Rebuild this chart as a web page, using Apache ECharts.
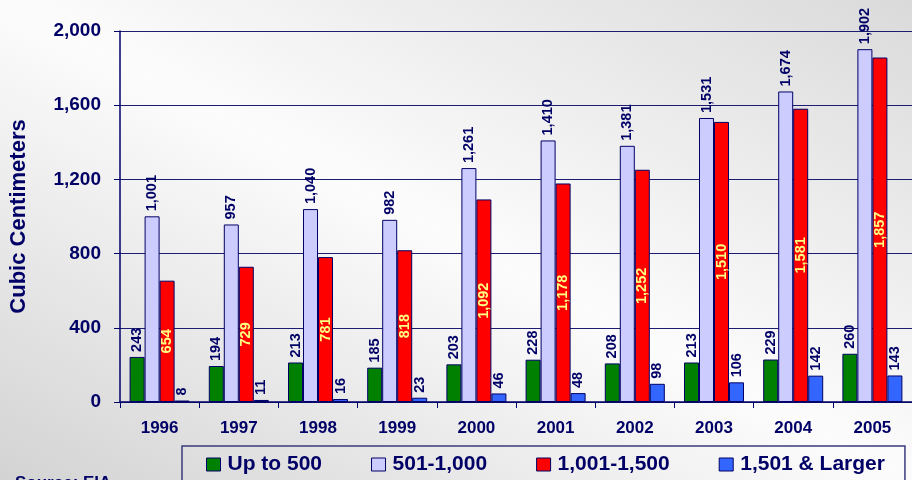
<!DOCTYPE html>
<html>
<head>
<meta charset="utf-8">
<title>Cubic Centimeters</title>
<script src="https://cdn.jsdelivr.net/npm/echarts@6/dist/echarts.min.js"></script>
<style>
  html, body { margin: 0; padding: 0; }
  body {
    width: 912px; height: 480px; overflow: hidden;
    background: linear-gradient(to top right, #d3d3d3 0%, #fcfcfc 50%, #dadada 100%);
  }
  #main { width: 912px; height: 480px; }
</style>
</head>
<body>
<div id="main"></div>
<script>
  // data
  var years = ['1996', '1997', '1998', '1999', '2000', '2001', '2002', '2003', '2004', '2005']
  var seriesNames = ['Up to 500', '501-1,000', '1,001-1,500', '1,501 & Larger']
  var upTo500 = [243, 194, 213, 185, 203, 228, 208, 213, 229, 260]
  var from501 = [1001, 957, 1040, 982, 1261, 1410, 1381, 1531, 1674, 1902]
  var from1001 = [654, 729, 781, 818, 1092, 1178, 1252, 1510, 1581, 1857]
  var over1501 = [8, 11, 16, 23, 46, 48, 98, 106, 142, 143]

  var navy = '#000066'
  var font = 'Liberation Sans, Arial, sans-serif'

  function fmt(v) {
    return Number(v).toLocaleString('en-US')
  }

  // label above the bar, reading bottom to top
  var topLabel = {
    show: true,
    position: 'top',
    rotate: 90,
    align: 'left',
    verticalAlign: 'middle',
    distance: 5,
    color: navy,
    fontSize: 14.5,
    fontWeight: 'bold',
    fontFamily: font,
    formatter: function (p) { return fmt(p.value) }
  }

  function makeBar(name, data, color, label) {
    return {
      name: name,
      type: 'bar',
      data: data,
      barWidth: 15,
      barGap: '0%',
      itemStyle: { color: color, borderColor: navy, borderWidth: 1 },
      label: label
    }
  }

  var chart = echarts.init(document.getElementById('main'), null, { renderer: 'canvas' })
  chart.setOption({
    backgroundColor: 'transparent',
    animation: false,
    grid: { left: 119, top: 31, bottom: 78, width: 800 },
    legend: {
      data: seriesNames,
      left: 182,
      top: 446,
      padding: [8, 20, 24, 24],
      itemGap: 49,
      itemWidth: 14,
      itemHeight: 13,
      icon: 'rect',
      borderColor: '#3a3a80',
      borderWidth: 1.5,
      itemStyle: { borderColor: navy, borderWidth: 1 },
      textStyle: { color: navy, fontSize: 21, fontWeight: 'bold', fontFamily: font, padding: [0, 0, 0, 2] }
    },
    graphic: [
      {
        // source note, mostly cut off at the bottom edge
        type: 'text',
        left: 15,
        top: 475,
        style: { text: 'Source: EIA', fill: navy, font: 'bold 17px ' + font }
      }
    ],
    xAxis: {
      type: 'category',
      data: years,
      axisLine: { lineStyle: { color: navy, width: 1.5 } },
      axisTick: { show: true, length: 6, lineStyle: { color: navy } },
      axisLabel: { color: navy, fontSize: 17, fontWeight: 'bold', fontFamily: font, margin: 18 }
    },
    yAxis: {
      type: 'value',
      min: 0,
      max: 2000,
      interval: 400,
      name: 'Cubic Centimeters',
      nameLocation: 'middle',
      nameGap: 90,
      nameTextStyle: { color: navy, fontSize: 22, fontWeight: 'bold', fontFamily: font },
      axisLine: { show: true, lineStyle: { color: navy, width: 1.5 } },
      axisTick: { show: true, length: 6, lineStyle: { color: navy } },
      splitLine: { lineStyle: { color: '#1c1c72', width: 1 } },
      axisLabel: {
        color: navy, fontSize: 19, fontWeight: 'bold', fontFamily: font, margin: 19,
        formatter: function (v) { return fmt(v) }
      }
    },
    series: [
      makeBar(seriesNames[0], upTo500, '#008000', topLabel),
      makeBar(seriesNames[1], from501, '#ccccff', topLabel),
      makeBar(seriesNames[2], from1001, '#ff0000', {
        show: true,
        position: 'inside',
        rotate: 90,
        align: 'center',
        verticalAlign: 'middle',
        color: '#ffff80',
        fontSize: 14.5,
        fontWeight: 'bold',
        fontFamily: font,
        formatter: function (p) { return fmt(p.value) }
      }),
      makeBar(seriesNames[3], over1501, '#3366ff', topLabel)
    ]
  })
</script>
</body>
</html>
